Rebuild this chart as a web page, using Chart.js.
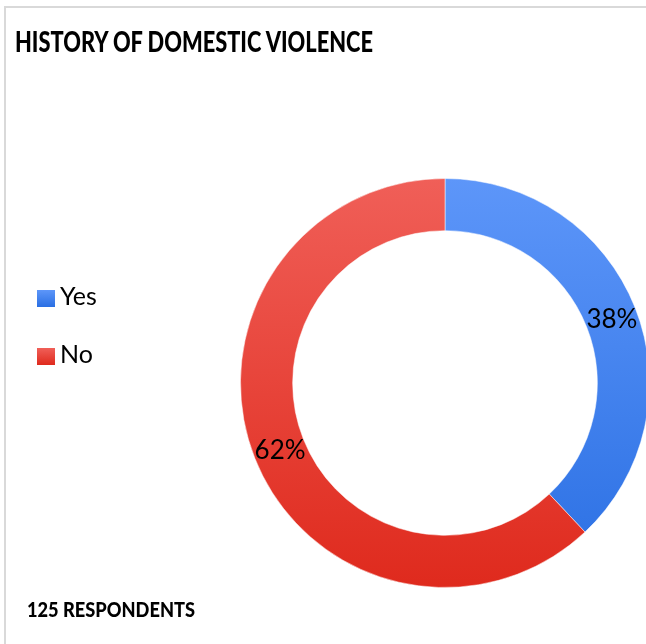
<!DOCTYPE html>
<html lang="en">
<head>
  <meta charset="UTF-8" />
  <title>History of Domestic Violence</title>
  <script src="https://cdn.jsdelivr.net/npm/chart.js"></script>
  <style>
    html, body {
      margin: 0;
      padding: 0;
      overflow: hidden;
      background: #fff;
      font-family: Lato, "Open Sans", sans-serif;
    }
    .frame {
      position: absolute;
      left: 4px;
      top: 6px;
      width: 700px;
      height: 700px;
      border-left: 2px solid #d9d9d9;
      border-top: 2px solid #d9d9d9;
    }
    .wrap {
      position: absolute;
      left: 0;
      top: 0;
      width: 660px;
      height: 644px;
    }
    h1 {
      position: absolute;
      left: 15px;
      top: 27px;
      margin: 0;
      font-size: 28px;
      line-height: 1;
      font-weight: 900;
      color: #000;
      white-space: nowrap;
      transform-origin: 0 0;
      transform: scaleX(0.8);
    }
    .legend {
      position: absolute;
      left: 37px;
      top: 283px;
    }
    .legend div {
      height: 58px;
      font-size: 25px;
      line-height: 1;
      color: #000;
      display: flex;
      align-items: flex-start;
    }
    .legend span.box {
      display: inline-block;
      width: 18px;
      height: 17px;
      margin: 7px 5px 0 0;
    }
    .footer {
      position: absolute;
      left: 27px;
      top: 598px;
      font-size: 21px;
      line-height: 1;
      font-weight: 900;
      color: #000;
      white-space: nowrap;
      transform-origin: 0 0;
      transform: scaleX(0.87);
    }
  </style>
</head>
<body>
  <div class="frame"></div>
  <div class="wrap"><canvas id="grafico" width="660" height="644"></canvas></div>
  <h1 id="titulo">HISTORY OF DOMESTIC VIOLENCE</h1>
  <div class="legend" id="leyenda"></div>
  <div class="footer" id="pie">125 RESPONDENTS</div>

  <script>
    const categorias = ["Yes", "No"];
    const porcentajes = [38, 62];
    const coloresArriba = ["#5d96f9", "#f05f58"];
    const coloresAbajo = ["#2a6fe3", "#df2a1d"];

    // ajustar ancho de los textos en negrita al de la referencia
    function ajustar(id, ancho) {
      const el = document.getElementById(id);
      const w = el.getBoundingClientRect().width;
      el.style.transform = "none";
      const real = el.getBoundingClientRect().width;
      el.style.transform = `scaleX(${ancho / real})`;
    }
    ajustar("titulo", 358);
    ajustar("pie", 168);

    // gradiente vertical para cada porción
    function gradiente(ctx, i) {
      const g = ctx.createLinearGradient(0, 178, 0, 588);
      g.addColorStop(0, coloresArriba[i]);
      g.addColorStop(1, coloresAbajo[i]);
      return g;
    }

    // etiquetas de porcentaje sobre el anillo
    const etiquetas = {
      id: "etiquetas",
      afterDatasetsDraw(chart) {
        const ctx = chart.ctx;
        const meta = chart.getDatasetMeta(0);
        ctx.save();
        ctx.font = "26px Lato, 'Open Sans', sans-serif";
        ctx.fillStyle = "#000";
        ctx.textAlign = "center";
        ctx.textBaseline = "middle";
        meta.data.forEach((arc, i) => {
          const p = arc.tooltipPosition();
          ctx.fillText(porcentajes[i] + "%", p.x + 1, p.y + 2);
        });
        ctx.restore();
      }
    };

    new Chart(document.getElementById("grafico"), {
      type: "doughnut",
      data: {
        labels: categorias,
        datasets: [{
          data: porcentajes,
          backgroundColor: c => gradiente(c.chart.ctx, c.dataIndex),
          borderColor: "rgba(255,255,255,0.5)",
          borderWidth: 1
        }]
      },
      options: {
        responsive: false,
        animation: false,
        cutout: "74.5%",
        layout: { padding: { left: 240, right: 10, top: 178, bottom: 56 } },
        plugins: {
          legend: { display: false },
          tooltip: { enabled: false }
        }
      },
      plugins: [etiquetas]
    });

    let html = "";
    categorias.forEach((c, i) => {
      html += `<div><span class="box" style="background:linear-gradient(${coloresArriba[i]}, ${coloresAbajo[i]})"></span>${c}</div>`;
    });
    document.getElementById("leyenda").innerHTML = html;
  </script>
</body>
</html>
